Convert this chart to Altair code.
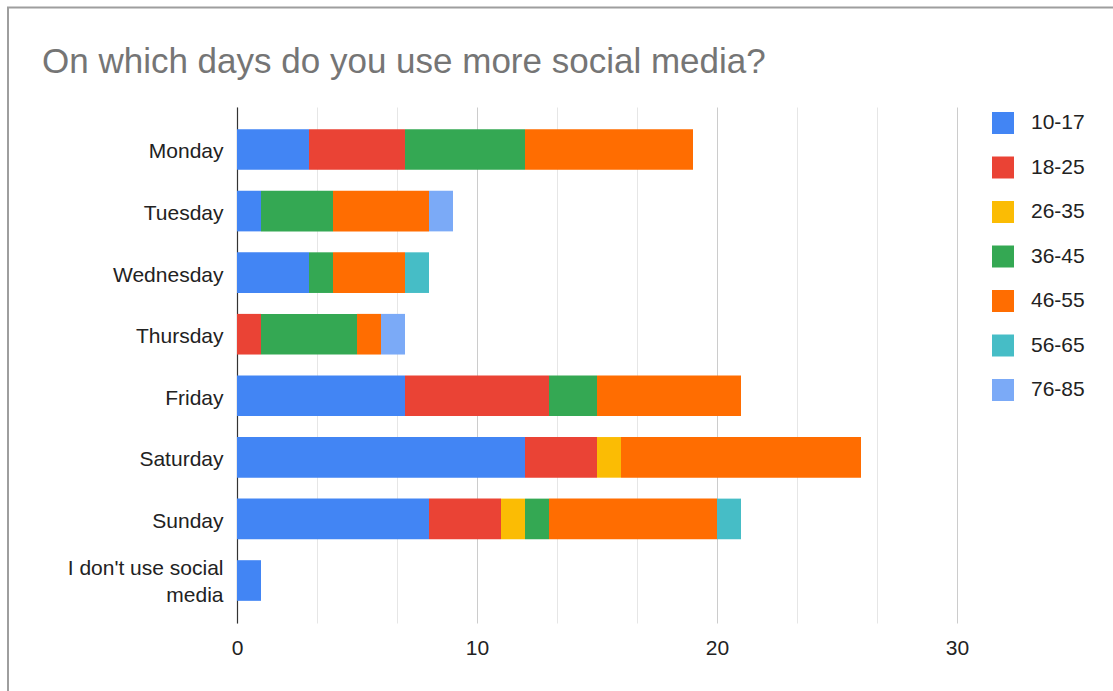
import altair as alt
import pandas as pd

days = ["Monday", "Tuesday", "Wednesday", "Thursday", "Friday", "Saturday",
        "Sunday", "I don't use social media"]
age_groups = ["10-17", "18-25", "26-35", "36-45", "46-55", "56-65", "76-85"]
colors = ["#4285F4", "#EA4335", "#FBBC04", "#34A853", "#FF6D01", "#46BDC6", "#7BAAF7"]

a10_17 = [3, 1, 3, 0, 7, 12, 8, 1]
a18_25 = [4, 0, 0, 1, 6, 3, 3, 0]
a26_35 = [0, 0, 0, 0, 0, 1, 1, 0]
a36_45 = [5, 3, 1, 4, 2, 0, 1, 0]
a46_55 = [7, 4, 3, 1, 6, 10, 7, 0]
a56_65 = [0, 0, 1, 0, 0, 0, 1, 0]
a76_85 = [0, 1, 0, 1, 0, 0, 0, 0]

series = [a10_17, a18_25, a26_35, a36_45, a46_55, a56_65, a76_85]
rows = []
for g, vals in zip(age_groups, series):
    for d, v in zip(days, vals):
        if v > 0:
            rows.append({"day": d, "age": g, "count": v, "ord": age_groups.index(g)})
df = pd.DataFrame(rows)

grid_vals = [0, 10 / 3, 20 / 3, 10, 40 / 3, 50 / 3, 20, 70 / 3, 80 / 3, 30]

FONT = "Liberation Sans"

frame = alt.Chart(alt.Data(values=[{"a": 1}])).mark_rect(
    fill="transparent", stroke="#9e9e9e", strokeWidth=2
).encode(
    x=alt.value(-229), x2=alt.value(1200), y=alt.value(-99.5), y2=alt.value(1000)
)

bars = alt.Chart(df).mark_bar().encode(
    y=alt.Y("day:N", sort=days, title=None,
            scale=alt.Scale(paddingInner=0.34, paddingOuter=0.36),
            axis=alt.Axis(
                labelFont=FONT, labelFontSize=21, labelColor="#222222",
                labelPadding=14, ticks=False, domainColor="#333333",
                domainWidth=1.2, grid=False,
                labelLineHeight=27,
                labelOffset={"condition": {"test": "length(datum.value) > 15", "value": -12},
                             "value": 3},
                labelExpr="length(datum.label) > 15 ? [slice(datum.label, 0, lastindexof(datum.label, ' ')), slice(datum.label, lastindexof(datum.label, ' ') + 1)] : datum.label",
            )),
    x=alt.X("sum(count):Q", title=None, stack="zero",
            scale=alt.Scale(domain=[0, 30], nice=False),
            axis=alt.Axis(
                values=grid_vals, labelFont=FONT, labelFontSize=21,
                labelColor="#222222", labelPadding=14, ticks=False,
                domain=False, grid=True, labelFlush=False,
                gridColor={"condition": {"test": "abs(datum.value % 10) < 0.001", "value": "#cccccc"},
                           "value": "#e6e6e6"},
                labelExpr="abs(datum.value % 10) < 0.001 ? format(datum.value, 'd') : ''",
            )),
    color=alt.Color("age:N", scale=alt.Scale(domain=age_groups, range=colors),
                    legend=alt.Legend(
                        title=None, orient="none", legendX=755, legendY=5,
                        symbolType="square", symbolSize=484, symbolStrokeWidth=0,
                        symbolOpacity=1,
                        labelFont=FONT, labelFontSize=21, labelColor="#222222",
                        labelOffset=17, rowPadding=22.5, padding=0,
                    )),
    order=alt.Order("ord:Q"),
)

chart = alt.layer(frame, bars).properties(
    width=720, height=516,
    autosize=alt.AutoSizeParams(type="none"),
    padding={"left": 237, "top": 107, "right": 156, "bottom": 68},
    title=alt.TitleParams(
        "On which days do you use more social media?",
        anchor="start", frame="group", font=FONT, fontSize=35,
        fontWeight="normal", color="#757575", dx=-195, offset=-101,
        baseline="alphabetic",
    ),
).configure_view(strokeWidth=0, strokeOpacity=0)

chart.save("out.html", embed_options={"renderer": "svg", "actions": False})
